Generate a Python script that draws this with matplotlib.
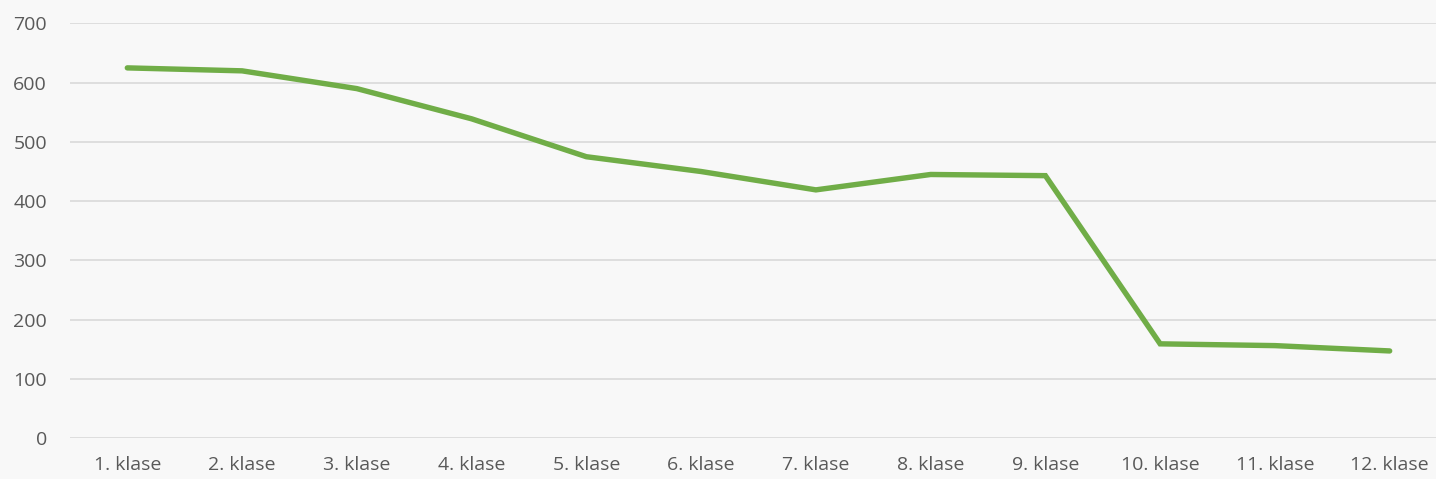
import matplotlib
matplotlib.use("Agg")
import matplotlib.pyplot as plt

categories = [f"{i}. klase" for i in range(1, 13)]
values = [625, 620, 590, 539, 475, 450, 419, 445, 443, 159, 156, 147]
y_ticks = [0, 100, 200, 300, 400, 500, 600, 700]

plt.rcParams["font.family"] = ["Open Sans", "DejaVu Sans"]

fig = plt.figure(figsize=(14.36, 4.79), dpi=100)
fig.patch.set_facecolor("#f8f8f8")
ax = fig.add_axes([0.0487, 0.0856, 0.959, 0.8654])
ax.set_facecolor("#f8f8f8")

x = range(len(categories))
ax.plot(x, values, color="#70ad47", linewidth=3.9, solid_capstyle="round", solid_joinstyle="miter")

ax.set_xlim(-0.5, len(categories) - 0.5)
ax.set_ylim(0, 700)
ax.set_yticks(y_ticks)
ax.set_xticks(list(x))
ax.set_xticklabels(categories)
ax.grid(axis="y", color="#d9d9d9", linewidth=1.2)
ax.set_axisbelow(True)
for s in ax.spines.values():
    s.set_visible(False)
ax.tick_params(length=0, colors="#595959", labelsize=14)
ax.tick_params(axis="y", pad=16.5)
ax.tick_params(axis="x", pad=13)

fig.savefig("out.png", dpi=100, facecolor=fig.get_facecolor())
